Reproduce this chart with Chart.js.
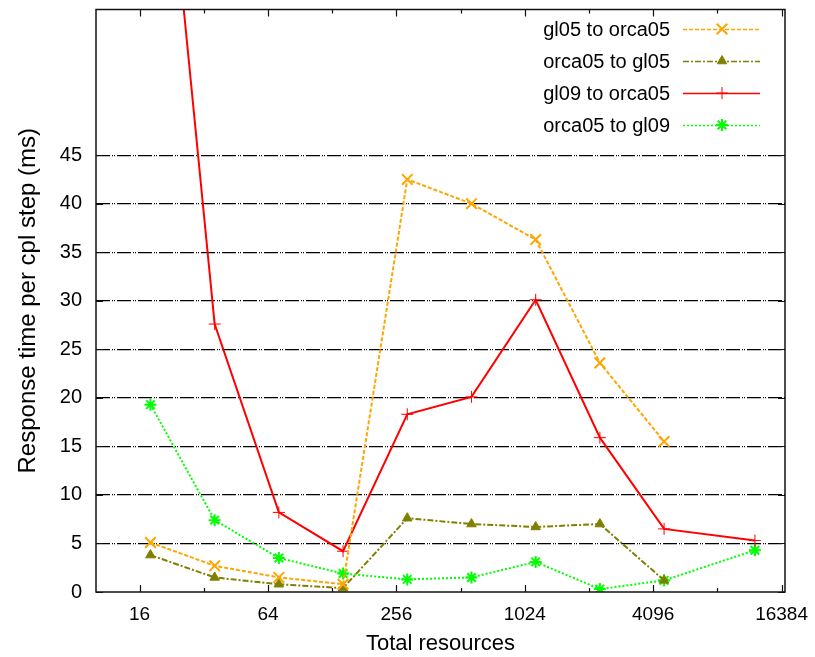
<!DOCTYPE html>
<html>
<head>
<meta charset="utf-8">
<script src="https://cdn.jsdelivr.net/npm/chart.js@4/dist/chart.umd.min.js"></script>
<style>
  html, body { margin: 0; padding: 0; background: #fff; }
  canvas { display: block; }
</style>
</head>
<body>
<canvas id="resp" width="815" height="657"></canvas>
<script>
// total resources per run
const resources = [18, 36, 72, 144, 288, 576, 1152, 2304, 4608, 12288];

// response time per coupling step (ms)
const gl05ToOrca05 = [5.1, 2.7, 1.5, 0.8, 42.5, 40.0, 36.3, 23.6, 15.5, null];
const orca05ToGl05 = [3.8, 1.5, 0.8, 0.4, 7.6, 7.0, 6.7, 7.0, 1.2, null];
const gl09ToOrca05 = [95, 27.6, 8.2, 4.2, 18.3, 20.1, 30.1, 15.9, 6.5, 5.3];
const orca05ToGl09 = [19.3, 7.4, 3.5, 1.9, 1.3, 1.5, 3.1, 0.3, 1.2, 4.3];

const xTicks = [16, 32, 64, 128, 256, 512, 1024, 2048, 4096, 8192, 16384];
const xLabels = [16, 64, 256, 1024, 4096, 16384];
const yLabels = [0, 5, 10, 15, 20, 25, 30, 35, 40, 45];

const FONT = 'Liberation Sans, Arial, Helvetica, sans-serif';

function pts(vals) {
  return resources.map((x, i) => ({ x, y: vals[i] })).filter(p => p.y !== null);
}

function series(label, vals, color, dash, style, radius, pw) {
  return {
    label,
    data: pts(vals),
    borderColor: color,
    backgroundColor: color,
    borderWidth: 2,
    borderDash: dash,
    pointStyle: style,
    pointRadius: radius,
    pointBorderWidth: pw,
    pointBackgroundColor: color,
    pointBorderColor: color,
    tension: 0,
    fill: false,
  };
}

// no extra room for half-labels at the ends: the plot box is fixed
function noPad(s) {
  s.paddingTop = 0; s.paddingBottom = 0; s.paddingLeft = 0; s.paddingRight = 0;
}

// frame with inward ticks, gnuplot style
const frame = {
  id: 'frame',
  afterDatasetsDraw(chart) {
    const { ctx, chartArea: a, scales: { x, y } } = chart;
    ctx.save();
    ctx.strokeStyle = '#111';
    ctx.lineWidth = 1.5;
    ctx.setLineDash([]);
    ctx.strokeRect(a.left, a.top, a.right - a.left, a.bottom - a.top);
    ctx.lineWidth = 1.2;
    ctx.beginPath();
    xTicks.forEach(v => {
      const px = Math.round(x.getPixelForValue(v)) + 0.5;
      const len = xLabels.includes(v) ? 7 : 4;
      ctx.moveTo(px, a.bottom); ctx.lineTo(px, a.bottom - len);
      ctx.moveTo(px, a.top); ctx.lineTo(px, a.top + len);
    });
    yLabels.forEach(v => {
      const py = Math.round(y.getPixelForValue(v)) + 0.5;
      ctx.moveTo(a.left, py); ctx.lineTo(a.left + 7, py);
      ctx.moveTo(a.right, py); ctx.lineTo(a.right - 7, py);
    });
    ctx.stroke();
    ctx.restore();
  },
};

// key in the top right corner: text, then line sample with marker
const key = {
  id: 'key',
  afterDraw(chart) {
    const ctx = chart.ctx;
    ctx.save();
    ctx.font = '20px ' + FONT;
    ctx.textAlign = 'right';
    ctx.textBaseline = 'middle';
    chart.data.datasets.forEach((ds, i) => {
      const yy = 29 + i * 32;
      ctx.fillStyle = '#000';
      ctx.fillText(ds.label, 670, yy + 1);
      ctx.strokeStyle = ds.borderColor;
      ctx.lineWidth = 1.3;
      ctx.setLineDash(ds.borderDash);
      ctx.beginPath();
      ctx.moveTo(683, yy + 0.5);
      ctx.lineTo(760, yy + 0.5);
      ctx.stroke();
      ctx.setLineDash([]);
      ctx.fillStyle = ds.pointBackgroundColor;
      ctx.lineWidth = ds.pointBorderWidth;
      Chart.helpers.drawPoint(ctx, {
        pointStyle: ds.pointStyle, radius: ds.pointRadius, borderWidth: ds.pointBorderWidth, rotation: 0,
      }, 722, yy);
    });
    ctx.restore();
  },
};

new Chart(document.getElementById('resp'), {
  type: 'line',
  data: {
    datasets: [
      series('gl05 to orca05', gl05ToOrca05, '#ffa500', [4, 2], 'crossRot', 7.5, 2),
      series('orca05 to gl05', orca05ToGl05, '#808000', [6, 2, 2, 2], 'triangle', 5.5, 1),
      series('gl09 to orca05', gl09ToOrca05, '#ff0000', [], 'cross', 6, 1),
      series('orca05 to gl09', orca05ToGl09, '#00ff00', [2, 2], 'star', 6, 2),
    ],
  },
  options: {
    responsive: false,
    animation: false,
    layout: { padding: { top: 9, right: 30, bottom: 0, left: 0 } },
    plugins: { legend: { display: false }, tooltip: { enabled: false } },
    scales: {
      x: {
        type: 'logarithmic',
        min: 10,
        max: 17000,
        afterBuildTicks: s => { s.ticks = xTicks.map(v => ({ value: v })); },
        afterFit: s => { s.height = 65; noPad(s); },
        grid: { display: false, drawTicks: false },
        border: { display: false },
        ticks: {
          autoSkip: false,
          maxRotation: 0,
          padding: 11,
          color: '#000',
          font: { family: FONT, size: 19 },
          callback: v => (xLabels.includes(v) ? String(v) : ''),
        },
        title: {
          display: true,
          text: 'Total resources',
          color: '#000',
          font: { family: FONT, size: 22 },
          padding: { top: 0, bottom: 0 },
        },
      },
      y: {
        min: 0,
        max: 60,
        afterFit: s => { s.width = 96; noPad(s); },
        grid: {
          drawTicks: false,
          lineWidth: 1.2,
          color: c => (c.tick.value > 0 && c.tick.value <= 45 ? '#000' : 'rgba(0,0,0,0)'),
        },
        border: { display: false, dash: [14, 2, 1, 1, 1, 2] },
        ticks: {
          stepSize: 5,
          padding: 14,
          color: '#000',
          font: { family: FONT, size: 20 },
          callback: v => (yLabels.includes(v) ? String(v) : ''),
        },
        title: {
          display: true,
          text: 'Response time per cpl step (ms)',
          color: '#000',
          font: { family: FONT, size: 24 },
          padding: { top: 14, bottom: 0 },
        },
      },
    },
  },
  plugins: [frame, key],
});
</script>
</body>
</html>
